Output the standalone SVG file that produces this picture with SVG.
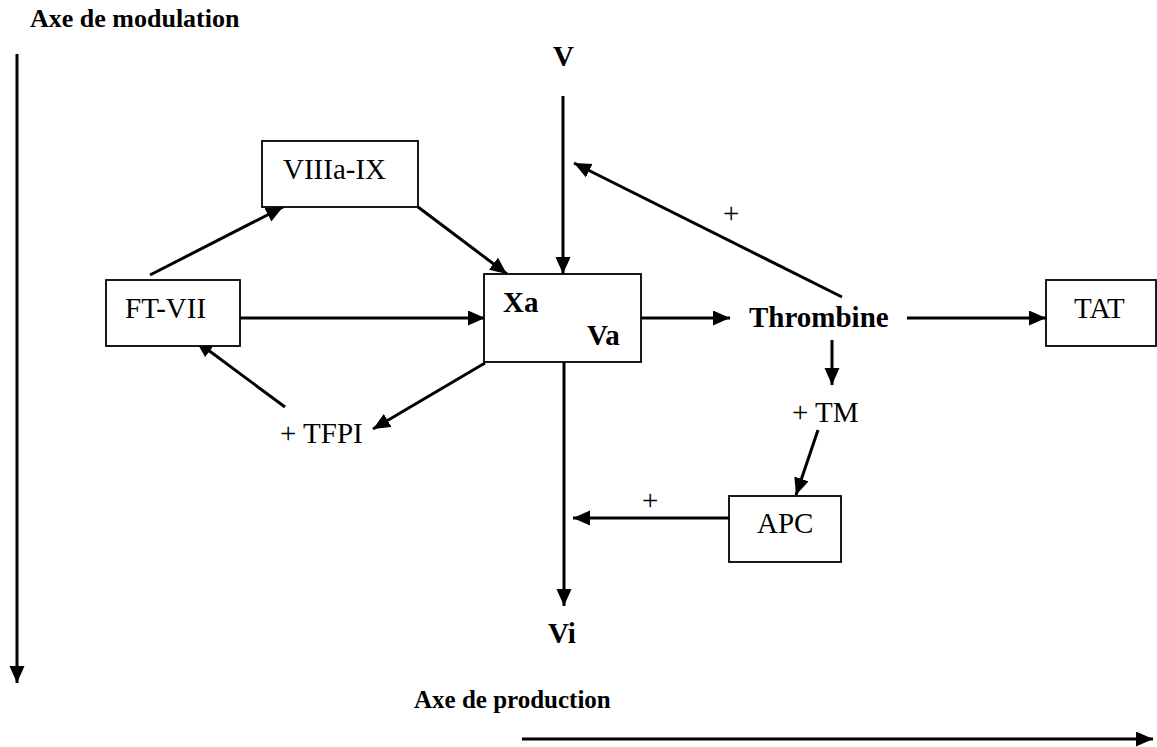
<svg xmlns="http://www.w3.org/2000/svg" width="1157" height="747" viewBox="0 0 1157 747">
<style>
.box{fill:#fff;stroke:#000;stroke-width:1.8}
.t{font-family:"Liberation Serif","Times New Roman",serif;font-size:29px;fill:#000}
.b{font-weight:bold}
.ax{font-family:"Liberation Serif","Times New Roman",serif;font-weight:bold;fill:#000}
.ln{stroke:#000;stroke-width:3;fill:none;marker-end:url(#ah)}
</style>
<defs>
<marker id="ah" markerUnits="userSpaceOnUse" markerWidth="18" markerHeight="16" refX="17" refY="7.5" orient="auto">
<path d="M0,0 L17,7.5 L0,15 z" fill="#000"/>
</marker>
</defs>
<rect width="1157" height="747" fill="#fff"/>
<g id="axes">
<text class="ax" x="30" y="27" font-size="26">Axe de modulation</text>
<text class="ax" x="414" y="708" font-size="25">Axe de production</text>
</g>
<g id="connectors">
<line class="ln" x1="17" y1="54" x2="17" y2="683"/>
<line class="ln" x1="522" y1="739" x2="1153" y2="739"/>
<line class="ln" x1="563" y1="96" x2="563" y2="274"/>
<line class="ln" x1="842" y1="297" x2="574" y2="163"/>
<line class="ln" x1="150" y1="275" x2="283" y2="207"/>
<line class="ln" x1="418" y1="207" x2="507" y2="274"/>
<line class="ln" x1="240" y1="318" x2="485" y2="318"/>
<line class="ln" x1="285" y1="407" x2="196" y2="341"/>
<line class="ln" x1="485" y1="363" x2="373" y2="429"/>
<line class="ln" x1="641" y1="318" x2="730" y2="318"/>
<line class="ln" x1="907" y1="318" x2="1046" y2="318"/>
<line class="ln" x1="832" y1="340" x2="832" y2="385"/>
<line class="ln" x1="818" y1="430" x2="796" y2="495"/>
<line class="ln" x1="729" y1="518" x2="573" y2="518"/>
<line class="ln" x1="564" y1="362" x2="564" y2="606"/>
</g>
<g id="V"><text class="t b" x="553" y="66">V</text></g>
<g id="VIIIa-IX"><rect class="box" x="262" y="141" width="156" height="66"/><text class="t" x="283" y="179">VIIIa-IX</text></g>
<g id="FT-VII"><rect class="box" x="106" y="280" width="134" height="66"/><text class="t" x="125" y="318">FT-VII</text></g>
<g id="XaVa"><rect class="box" x="484" y="274" width="157" height="88"/><text class="t b" x="503" y="312">Xa</text><text class="t b" x="587" y="345">Va</text></g>
<g id="Thrombine"><text class="t b" x="749" y="327">Thrombine</text></g>
<g id="TAT"><rect class="box" x="1046" y="280" width="110" height="66"/><text class="t" x="1074" y="318">TAT</text></g>
<g id="TFPI"><text class="t" x="280" y="443">+ TFPI</text></g>
<g id="TM"><text class="t" x="792" y="422">+ TM</text></g>
<g id="APC"><rect class="box" x="729" y="496" width="112" height="66"/><text class="t" x="757" y="533">APC</text></g>
<g id="Vi"><text class="t b" x="548" y="643">Vi</text></g>
<g id="plus-labels"><text class="t" x="723" y="223">+</text><text class="t" x="642" y="510">+</text></g>
</svg>
